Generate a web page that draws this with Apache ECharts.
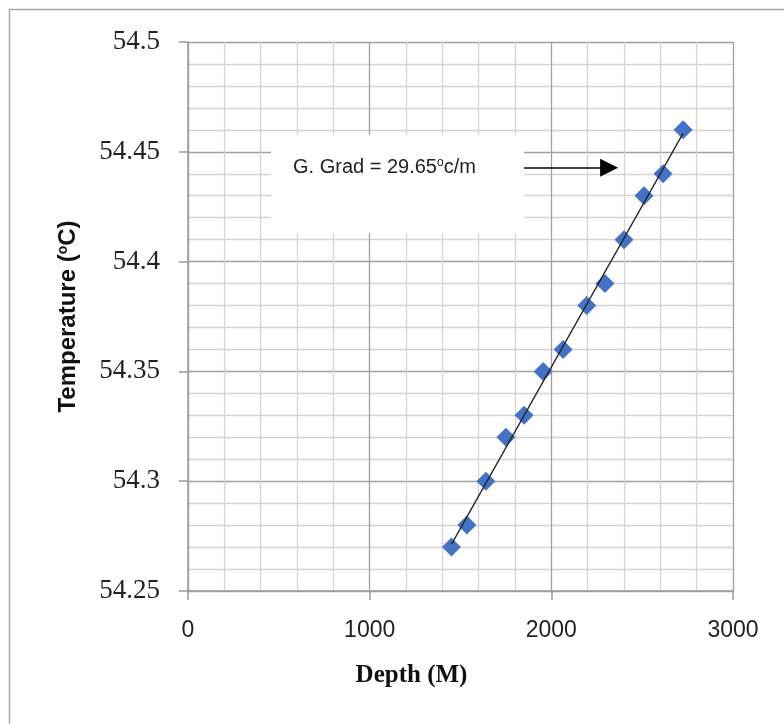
<!DOCTYPE html>
<html><head><meta charset="utf-8">
<script src="https://cdn.jsdelivr.net/npm/echarts@6/dist/echarts.min.js"></script>
<style>html,body{margin:0;padding:0;background:#fff;}#c{width:784px;height:724px;}</style>
</head><body><div id="c"></div>
<script>
const depth = [1450, 1535, 1640, 1750, 1850, 1955, 2065, 2195, 2295, 2400, 2510, 2615, 2725];
const temperature = [54.27, 54.28, 54.30, 54.32, 54.33, 54.35, 54.36, 54.38, 54.39, 54.41, 54.43, 54.44, 54.46];
const xTicks = [0, 1000, 2000, 3000];
const yTicks = [54.25, 54.3, 54.35, 54.4, 54.45, 54.5];
const annotationText = 'G. Grad = 29.65{s|o}c/m';

// linear trendline (least squares) over data range
const n = depth.length;
const mx = depth.reduce((a,b)=>a+b,0)/n, my = temperature.reduce((a,b)=>a+b,0)/n;
let sxy=0, sxx=0;
for (let i=0;i<n;i++){ sxy+=(depth[i]-mx)*(temperature[i]-my); sxx+=(depth[i]-mx)*(depth[i]-mx); }
const slope = sxy/sxx, icpt = my - slope*mx;
const xMin = Math.min(...depth), xMax = Math.max(...depth);
const trend = [[xMin, icpt+slope*xMin],[xMax, icpt+slope*xMax]];

const chart = echarts.init(document.getElementById('c'));
const axisGrey = '#9a9a9a';
chart.setOption({
  animation:false,
  backgroundColor:'#fff',
  graphic:[{type:'rect', shape:{x:9.5,y:9.5,width:800,height:760}, style:{fill:'none', stroke:'#a6a6a6', lineWidth:1.5}, z:-1}],
  grid:{left:188, right:51, top:42, bottom:133},
  xAxis:{type:'value', min:xTicks[0], max:xTicks[xTicks.length-1], interval:1000,
    axisLine:{show:true, onZero:false, lineStyle:{color:axisGrey, width:1.5}},
    axisTick:{show:true, length:9, lineStyle:{color:axisGrey, width:1.5}},
    axisLabel:{margin:28, fontFamily:'Liberation Sans', fontSize:23, color:'#222', formatter:v=>String(v)},
    splitLine:{show:true, lineStyle:{color:'#a0a0a0', width:1.3}},
    minorTick:{show:false, splitNumber:5},
    minorSplitLine:{show:true, lineStyle:{color:'#d4d4d4', width:1.3}},
    name:'Depth (M)', nameLocation:'middle', nameGap:72,
    nameTextStyle:{fontFamily:'Liberation Serif', fontWeight:'bold', fontSize:25, color:'#111', padding:[0,98,0,0]}
  },
  yAxis:{type:'value', min:yTicks[0], max:yTicks[yTicks.length-1], interval:0.05,
    axisLine:{show:true, onZero:false, lineStyle:{color:axisGrey, width:1.5}},
    axisTick:{show:true, length:9, lineStyle:{color:axisGrey, width:1.5}},
    axisLabel:{margin:28, fontFamily:'Liberation Serif', fontSize:27, color:'#222'},
    splitLine:{show:true, lineStyle:{color:'#a0a0a0', width:1.3}},
    minorTick:{show:false, splitNumber:5},
    minorSplitLine:{show:true, lineStyle:{color:'#d4d4d4', width:1.3}},
    name:'Temperature ({s|o}C)', nameLocation:'middle', nameGap:108,
    nameTextStyle:{fontFamily:'Liberation Sans', fontWeight:'bold', fontSize:24, color:'#111',
      rich:{s:{fontFamily:'Liberation Sans', fontWeight:'bold', fontSize:14, color:'#111', verticalAlign:'top', padding:[0,0,9,0]}}}
  },
  series:[
    {type:'scatter', data:depth.map((d,i)=>[d,temperature[i]]), symbol:'diamond', symbolSize:19,
     itemStyle:{color:'#4472C4', opacity:1}, z:3,
     markArea:{silent:true, itemStyle:{color:'#ffffff', opacity:1},
       label:{show:true, position:[22,22], formatter:annotationText, fontFamily:'Liberation Sans', fontSize:20, color:'#222', align:'left', verticalAlign:'top',
         rich:{s:{fontFamily:'Liberation Sans', fontSize:12, color:'#222', padding:[0,0,9,0]}}},
       data:[[{coord:[457,54.4577]},{coord:[1850,54.413]}]]},
     markLine:{silent:true, symbol:['none','triangle'], symbolSize:[18,18], animation:false,
       lineStyle:{color:'#000', width:1.5, type:'solid'}, label:{show:false},
       data:[[{coord:[1850,54.4427]},{coord:[2318,54.4427]}]]}
    },
    {type:'line', data:trend, symbol:'none', lineStyle:{color:'#222', width:1.3}, z:4}
  ]
});
</script></body></html>
